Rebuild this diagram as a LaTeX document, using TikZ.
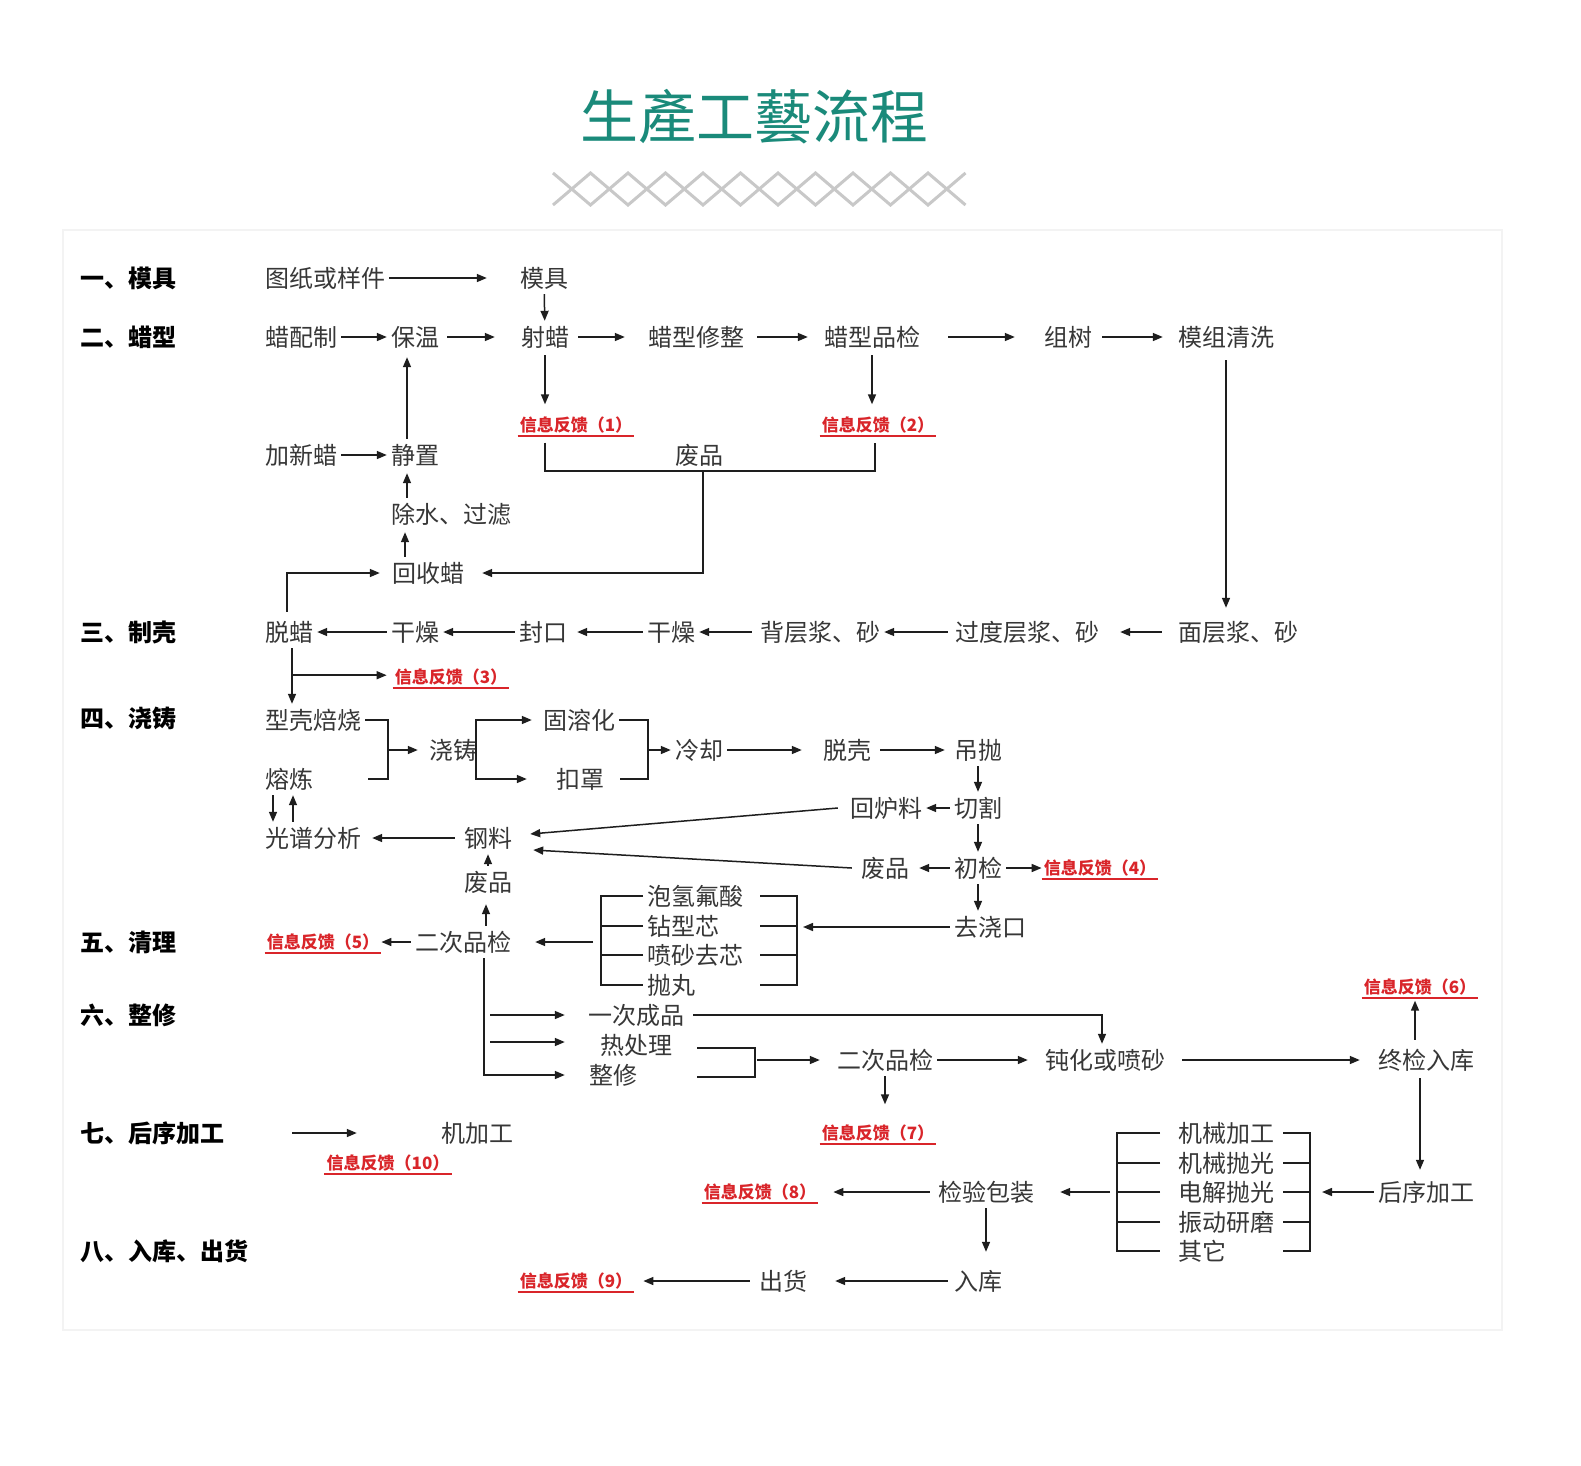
\documentclass[tikz,border=0pt]{standalone}
\usepackage{fontspec}
\newfontfamily\cjk{Noto Sans CJK SC}
\newfontfamily\cjktc{Noto Sans CJK TC}
\usetikzlibrary{arrows.meta,calc}
\definecolor{txt}{RGB}{55,55,55}
\definecolor{lnc}{RGB}{30,30,30}
\definecolor{fbred}{RGB}{217,37,42}
\definecolor{teal1}{RGB}{26,138,122}
\definecolor{zzc}{RGB}{200,200,200}
\definecolor{framec}{RGB}{243,243,243}
\begin{document}
\begin{tikzpicture}[x=1pt,y=-1pt,
  tx/.style={font=\cjk\fontsize{24}{26}\selectfont, text=txt, inner sep=4pt, text height=21pt, text depth=3pt},
  sec/.style={font=\cjk\bfseries\fontsize{24}{26}\selectfont, text=black, inner sep=0pt, anchor=west, text height=21pt, text depth=3pt},
  fb/.style={font=\cjk\bfseries\fontsize{17}{19}\selectfont, text=fbred, inner sep=2pt, text height=15pt, text depth=2pt,
     append after command={(\tikzlastnode.south west) edge[draw=fbred, line width=1.6pt] (\tikzlastnode.south east)}},
  arr/.style={draw=lnc, line width=1.5pt, -{Triangle[length=10pt,width=8pt]}},
  brk/.style={draw=lnc, line width=1.5pt},
  zzs/.style={draw=zzc, line width=3pt, line join=miter}]
\useasboundingbox[fill=white] (0,0) rectangle (1581,1465);
\draw[draw=framec, line width=2pt] (63,230) rectangle (1502,1330);

% title
\node[font=\cjktc\fontsize{58}{62}\selectfont, text=teal1, inner sep=0pt] (title) at (754,117) {生產工藝流程};
\draw[zzs] (553,173) \foreach \i in {1,...,11} {-- ({553+\i*37.5},{189-16*cos(180*\i)})};
\draw[zzs] (553,205) \foreach \i in {1,...,11} {-- ({553+\i*37.5},{189+16*cos(180*\i)})};

% section labels
\node[sec] (s1) at (80,278) {一、模具};
\node[sec] (s2) at (80,337) {二、蜡型};
\node[sec] (s3) at (80,632) {三、制壳};
\node[sec] (s4) at (80,718) {四、浇铸};
\node[sec] (s5) at (80,942) {五、清理};
\node[sec] (s6) at (80,1015) {六、整修};
\node[sec] (s7) at (80,1133) {七、后序加工};
\node[sec] (s8) at (80,1251) {八、入库、出货};

% row 1-2
\node[tx] (tuzhi) at (325,278) {图纸或样件};
\node[tx] (muju) at (544,278) {模具};
\node[tx] (lapei) at (301,337) {蜡配制};
\node[tx] (baowen) at (415,337) {保温};
\node[tx] (shela) at (545,337) {射蜡};
\node[tx] (xiuzheng) at (696,337) {蜡型修整};
\node[tx] (pinjian) at (872,337) {蜡型品检};
\node[tx] (zushu) at (1068,337) {组树};
\node[tx] (qingxi) at (1226,337) {模组清洗};
\node[fb] (fb1) at (576,425) {信息反馈（1）};
\node[fb] (fb2) at (878,425) {信息反馈（2）};
\node[tx] (feipin1) at (699,455) {废品};
\node[tx] (jiaxin) at (301,455) {加新蜡};
\node[tx] (jingzhi) at (415,455) {静置};
\node[tx] (chushui) at (451,514) {除水、过滤};
\node[tx] (huishou) at (428,573) {回收蜡};

% row 3
\node[tx] (tuola) at (289,632) {脱蜡};
\node[tx] (ganzao1) at (415,632) {干燥};
\node[tx] (fengkou) at (543,632) {封口};
\node[tx] (ganzao2) at (671,632) {干燥};
\node[tx] (beiceng) at (820,632) {背层浆、砂};
\node[tx] (guodu) at (1027,632) {过度层浆、砂};
\node[tx] (mianceng) at (1238,632) {面层浆、砂};
\node[fb] (fb3) at (451,677) {信息反馈（3）};

% row 4
\node[tx] (xingke) at (313,720) {型壳焙烧};
\node[tx] (ronglian) at (289,779) {熔炼};
\node[tx] (jiaozhu) at (453,750) {浇铸};
\node[tx] (gurong) at (579,720) {固溶化};
\node[tx] (kouzhao) at (580,779) {扣罩};
\node[tx] (lengque) at (699,750) {冷却};
\node[tx] (tuoke) at (847,750) {脱壳};
\node[tx] (diaopao) at (978,750) {吊抛};
\node[tx] (qiege) at (978,808) {切割};
\node[tx] (huilu) at (886,808) {回炉料};
\node[tx] (chujian) at (978,868) {初检};
\node[tx] (feipin2) at (885,868) {废品};
\node[fb] (fb4) at (1100,868) {信息反馈（4）};
\node[tx] (qujiao) at (990,927) {去浇口};
\node[tx] (guangpu) at (313,838) {光谱分析};
\node[tx] (gangliao) at (488,838) {钢料};
\node[tx] (feipin3) at (488,882) {废品};

% row 5
\node[tx] (erci1) at (463,942) {二次品检};
\node[fb] (fb5) at (323,942) {信息反馈（5）};
\node[tx,anchor=west] (paoqing) at (643,896) {泡氢氟酸};
\node[tx,anchor=west] (zuanxing) at (643,926) {钻型芯};
\node[tx,anchor=west] (pensha) at (643,955) {喷砂去芯};
\node[tx,anchor=west] (paowan) at (643,985) {抛丸};

% row 6
\node[tx] (yici) at (636,1015) {一次成品};
\node[tx] (rechuli) at (636,1045) {热处理};
\node[tx] (zhengxiu) at (613,1075) {整修};
\node[tx] (erci2) at (885,1060) {二次品检};
\node[tx] (dunhua) at (1105,1060) {钝化或喷砂};
\node[tx] (zhongjian) at (1426,1060) {终检入库};
\node[fb] (fb6) at (1420,987) {信息反馈（6）};
\node[fb] (fb7) at (878,1133) {信息反馈（7）};

% row 7-8
\node[tx] (jijiagong) at (477,1133) {机加工};
\node[fb] (fb10) at (388,1163) {信息反馈（10）};
\node[tx] (houxu) at (1426,1192) {后序加工};
\node[tx,anchor=west] (jxjg) at (1174,1133) {机械加工};
\node[tx,anchor=west] (jxpg) at (1174,1163) {机械抛光};
\node[tx,anchor=west] (djpg) at (1174,1192) {电解抛光};
\node[tx,anchor=west] (zdym) at (1174,1222) {振动研磨};
\node[tx,anchor=west] (qita) at (1174,1251) {其它};
\node[tx] (jianyan) at (986,1192) {检验包装};
\node[fb] (fb8) at (760,1192) {信息反馈（8）};
\node[tx] (ruku) at (978,1281) {入库};
\node[tx] (chuhuo) at (783,1281) {出货};
\node[fb] (fb9) at (576,1281) {信息反馈（9）};

% ---------- connectors ----------
% row 1-2
\draw[arr, shorten >=29pt] (tuzhi) -- (muju);
\draw[arr] (muju) -- (shela);
\draw[arr] (lapei) -- (baowen);
\draw[arr, shorten <=4pt, shorten >=22pt] (baowen) -- (shela);
\draw[arr, shorten <=5pt, shorten >=19pt] (shela) -- (xiuzheng);
\draw[arr, shorten <=9pt, shorten >=12pt] (xiuzheng) -- (pinjian);
\draw[arr, shorten <=24pt, shorten >=25pt] (pinjian) -- (zushu);
\draw[arr, shorten <=6pt, shorten >=11pt] (zushu) -- (qingxi);
\draw[arr, shorten <=7pt, shorten >=8pt] (qingxi.south) -- (qingxi.south |- mianceng.north);
\draw[arr, shorten <=2pt, shorten >=10pt] (shela.south) -- (shela.south |- fb1.north);
\draw[arr, shorten <=2pt, shorten >=10pt] (pinjian.south) -- (pinjian.south |- fb2.north);
\coordinate (j1) at ($(feipin1.south)+(4,0)$);
\draw[brk] ($(shela.south |- fb1.south)+(0,7)$) |- (j1) -| ($(pinjian.south |- fb2.south)+(3,7)$);
\draw[arr, shorten >=14pt] (j1) |- (huishou);
\draw[arr] (jiaxin) -- (jingzhi);
\draw[arr, shorten >=4pt] ($(jingzhi.north)+(-8,0)$) -- ($(jingzhi.north |- baowen.south)+(-8,0)$);
\draw[arr, shorten >=2pt] ($(jingzhi.south |- chushui.north)+(-8,0)$) -- ($(jingzhi.south)+(-8,0)$);
\draw[arr, shorten >=2pt] ($(huishou.north)+(-23,0)$) -- ($(huishou.north |- chushui.south)+(-23,0)$);
\draw[arr, shorten <=4pt, shorten >=8pt] ($(tuola.north)+(-2,0)$) |- (huishou);

% row 3
\draw[arr] (ganzao1) -- (tuola);
\draw[arr] (fengkou) -- (ganzao1);
\draw[arr, shorten >=6pt] (ganzao2) -- (fengkou);
\draw[arr, shorten <=4pt] (beiceng) -- (ganzao2);
\draw[arr, shorten <=3pt] (guodu) -- (beiceng);
\draw[arr, shorten <=12pt, shorten >=17pt] (mianceng) -- (guodu);
\draw[arr] ($(tuola.south)+(3,0)$) -- ($(tuola.south |- xingke.north)+(3,0)$);
\coordinate (b3) at ($(tuola.south)+(3,27)$);
\draw[arr, shorten >=6pt] (b3) -- (b3 -| fb3.west);

% row 4
\coordinate (br1) at ($(xingke.east)+(23,30)$);
\draw[brk] (xingke.east) -| (br1) |- ($(ronglian.east)+(51,0)$);
\draw[arr, shorten >=7pt] (br1) -- (jiaozhu);
\coordinate (br2) at ($(jiaozhu.east)+(-5,0)$);
\draw[arr, shorten >=7pt] (br2) |- (gurong);
\draw[arr, shorten >=25pt] (br2) |- (kouzhao);
\coordinate (br3) at ($(gurong.east)+(29,30)$);
\draw[brk] (gurong.east) -| (br3) |- ($(kouzhao.east)+(12,0)$);
\draw[arr] (br3) -- (lengque);
\draw[arr, shorten >=17pt] (lengque) -- (tuoke);
\draw[arr, shorten <=5pt, shorten >=5pt] (tuoke) -- (diaopao);
\draw[arr] (diaopao) -- (qiege);
\draw[arr] (qiege) -- (huilu);
\draw[arr] (qiege) -- (chujian);
\draw[arr, shorten >=6pt] (chujian) -- (feipin2);
\draw[arr] (chujian) -- (fb4);
\draw[arr] (chujian.south) -- (chujian.south |- qujiao.north);
\draw[arr] ($(huilu.west)+(-8,0)$) -- ($(gangliao.east)+(14,-4)$);
\draw[arr] ($(feipin2.west)+(-5,0)$) -- ($(gangliao.east)+(17,12)$);
\draw[arr] ($(ronglian.south)+(-16,0)$) -- ($(ronglian.south |- guangpu.north)+(-16,0)$);
\draw[arr] ($(ronglian.south |- guangpu.north)+(4,0)$) -- ($(ronglian.south)+(4,0)$);
\draw[arr, shorten <=5pt, shorten >=7pt] (gangliao) -- (guangpu);
\draw[arr] (feipin3) -- (gangliao);
\draw[arr, shorten >=6pt] ($(feipin3.south |- erci1.north)+(-2,0)$) -- ($(feipin3.south)+(-2,0)$);

% row 5
\draw[arr] (erci1) -- (fb5);
\draw[brk] (paoqing.west) -- ++(-42,0) |- (paowan.west);
\draw[brk] (zuanxing.west) -- ++(-42,0);
\draw[brk] (pensha.west) -- ++(-42,0);
\coordinate (lbm) at ($(zuanxing.west)+(-50,16)$);
\draw[arr, shorten >=20pt] (lbm) -- (erci1);
\draw[brk] ($(paoqing.west)+(117,0)$) -- ++(37,0) |- ($(paowan.west)+(117,0)$);
\draw[brk] ($(zuanxing.west)+(117,0)$) -- ++(37,0);
\draw[brk] ($(pensha.west)+(117,0)$) -- ++(37,0);
\draw[arr] (qujiao) -- ($(zuanxing.west)+(160,1)$);

% row 6
\draw[arr, shorten >=20pt] ($(erci1.south)+(21,0)$) |- (zhengxiu);
\draw[arr, shorten >=19pt] ($(erci1.south |- yici.west)+(27,0)$) -- (yici.west);
\draw[arr, shorten >=31pt] ($(erci1.south |- rechuli.west)+(27,-3)$) -- ($(rechuli.west)+(0,-3)$);
\draw[arr, shorten <=5pt] (yici.east) -| ($(dunhua.north)+(-3,0)$);
\coordinate (br6) at ($(rechuli.east)+(79,15)$);
\draw[brk] ($(rechuli.east)+(21,3)$) -| (br6) |- ($(zhengxiu.east)+(56,2)$);
\draw[arr, shorten <=2pt, shorten >=13pt] (br6) -- (erci2);
\draw[arr, shorten >=13pt] (erci2) -- (dunhua);
\draw[arr, shorten <=13pt, shorten >=14pt] (dunhua) -- (zhongjian);
\draw[arr, shorten <=4pt, shorten >=3pt] ($(zhongjian.north)+(-11,0)$) -- ($(zhongjian.north |- fb6.south)+(-11,0)$);
\draw[arr, shorten >=18pt] (erci2.south) -- (erci2.south |- fb7.north);
\draw[arr, shorten <=2pt, shorten >=6pt] ($(zhongjian.south)+(-6,0)$) -- ($(zhongjian.south |- houxu.north)+(-6,0)$);

% row 7-8
\draw[arr, shorten <=68pt, shorten >=80pt] (s7) -- (jijiagong);
\draw[brk] ($(jxjg.west)+(-14,0)$) -- ++(-43,0) |- ($(qita.west)+(-14,0)$);
\foreach \n in {jxpg,djpg,zdym} \draw[brk] ($(\n.west)+(-14,0)$) -- ++(-43,0);
\draw[brk] ($(jxjg.west)+(109,0)$) -- ++(27,0) |- ($(qita.west)+(109,0)$);
\foreach \n in {jxpg,djpg,zdym} \draw[brk] ($(\n.west)+(109,0)$) -- ++(27,0);
\draw[arr] (houxu) -- ($(djpg.west)+(148,0)$);
\draw[arr, shorten >=22pt] ($(djpg.west)+(-64,0)$) -- (jianyan);
\draw[arr, shorten <=4pt, shorten >=15pt] (jianyan) -- (fb8);
\draw[arr, shorten >=13pt] (jianyan.south) -- (jianyan.south |- ruku.north);
\draw[arr, shorten <=2pt, shorten >=24pt] (ruku) -- (chuhuo);
\draw[arr, shorten <=5pt, shorten >=9pt] (chuhuo) -- (fb9);
\end{tikzpicture}
\end{document}
